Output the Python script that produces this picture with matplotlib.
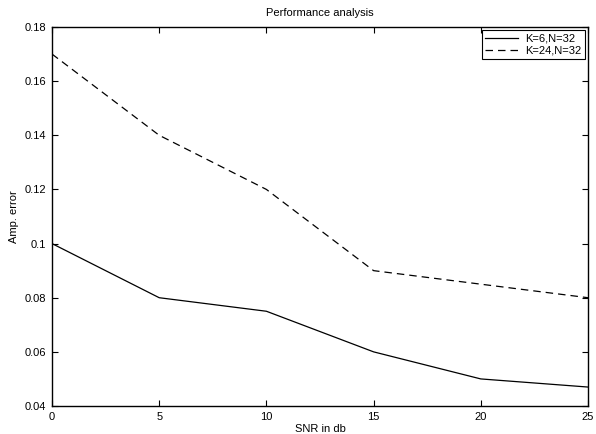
import numpy as np
import matplotlib
matplotlib.use('Agg')
import matplotlib.pyplot as plt

plt.rcParams['font.family'] = ['Liberation Sans', 'DejaVu Sans']
plt.rcParams['font.size'] = 8

# SNR values and amplitude error for the two settings
snr = [0, 5, 10, 15, 20, 25]
err_k6 = [0.100, 0.080, 0.075, 0.060, 0.050, 0.047]
err_k24 = [0.170, 0.140, 0.120, 0.090, 0.085, 0.080]

fig = plt.figure(figsize=(5.96, 4.34), dpi=100)
ax = fig.add_axes([52/596, 1 - 406/434, (588-52)/596, (406-27)/434])

ax.plot(snr, err_k6, 'k-', lw=0.9, label='K=6,N=32')
ax.plot(snr, err_k24, 'k--', lw=0.9, dashes=(6, 4), label='K=24,N=32')

ax.set_xlim(0, 25)
ax.set_ylim(0.04, 0.18)
ax.set_xticks(np.arange(0, 26, 5))
ax.set_yticks(np.arange(0.04, 0.181, 0.02))
ax.set_yticklabels(['0.04', '0.06', '0.08', '0.1', '0.12', '0.14', '0.16', '0.18'])
ax.tick_params(direction='in', top=True, right=True, length=4, width=0.8, pad=4)
for s in ax.spines.values():
    s.set_linewidth(1.0)

ax.set_title('Performance analysis', fontsize=8, pad=8)
ax.set_xlabel('SNR in db', labelpad=2)
ax.set_ylabel('Amp. error', labelpad=4)

leg = ax.legend(loc='upper right', fancybox=False, edgecolor='black', framealpha=1,
                handlelength=3.0, borderpad=0.3, labelspacing=0.2, handletextpad=0.6,
                borderaxespad=0.3, fontsize=8)
leg.get_frame().set_linewidth(0.8)

fig.savefig('out.png', dpi=100)
